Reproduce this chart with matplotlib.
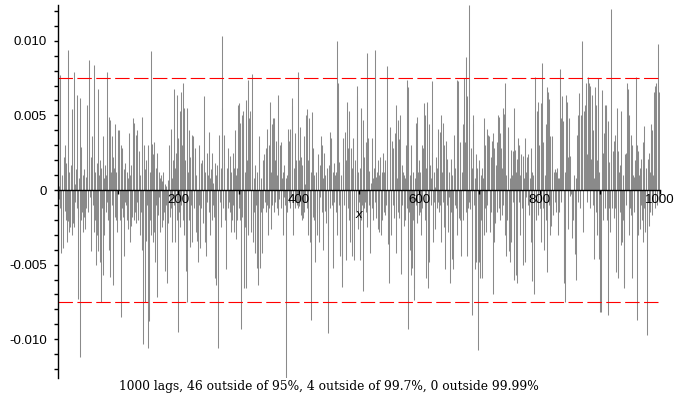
import numpy as np
import matplotlib
matplotlib.use('Agg')
import matplotlib.pyplot as plt
from matplotlib.ticker import FixedLocator, MultipleLocator, FuncFormatter

# autocorrelation values, units of 1e-4, lags 1..1000 in blocks of 100
acf1 = [-6, 3, 77, -12, -42, 9, 10, -18, -39, 22,
        -14, 30, -20, 18, -35, 94, -21, -28, 12, -25,
        6, 17, -30, 54, -22, 79, -25, 4, -8, 14,
        -12, 64, -18, -73, 8, 62, -112, -20, 29, -15,
        10, -28, 14, -18, -26, 9, -12, 20, 57, -15,
        12, 87, -5, 22, -41, 14, 36, -10, -28, 84,
        -20, 12, -50, 18, -30, 68, -41, 10, -48, 20,
        -75, 15, -12, 36, -57, -30, 8, 17, -15, 10,
        79, -8, -20, 49, -40, 47, -58, 12, 36, -10,
        22, -64, 15, -18, 44, 12, -20, -28, 25, 40]
acf2 = [15, 40, -20, -85, 30, -12, 28, -18, -44, 14,
        -8, 18, -10, 12, -20, 8, -26, 38, -35, 10,
        -24, 17, -18, 10, 48, -20, 45, -15, 37, -22,
        40, -8, -20, 12, 26, -30, 10, -15, 49, -40,
        -20, -103, 30, -75, 14, -34, 20, -10, -106, 30,
        -88, 12, -20, 93, -30, 31, -35, 24, -28, 32,
        -48, 15, -10, -72, 25, -17, 12, -5, 8, -28,
        10, -25, 6, -20, 12, -15, -54, 4, 3, -10,
        -62, 7, -22, 5, 30, -18, 41, -12, 8, -35,
        20, 68, -10, -35, 15, 25, 64, -20, -95, 35]
acf3 = [-15, 53, -25, 66, -10, 30, 72, -20, 55, -30,
        20, -35, -54, 55, -75, 12, 40, -20, -38, 22,
        -10, 37, -35, 15, 36, -12, 28, 22, -28, 10,
        -34, -15, -48, 30, -10, -39, 18, -12, 17, 20,
        -22, 8, 63, -35, 12, -44, -8, 25, 10, 39,
        -15, 8, -30, 14, -20, 25, -10, 5, -18, -59,
        18, -64, 10, 17, -106, -20, 12, 37, -8, 15,
        -25, 103, 55, -12, 18, 37, -20, -10, -53, 8,
        15, -12, 28, -8, 23, -15, -28, 12, -20, 25,
        -10, -28, 15, 40, -33, 10, -20, 15, 57, -12]
acf4 = [58, -20, 45, -93, 50, -18, 45, 53, -66, 12,
        -25, 60, -66, 20, 74, -30, 48, 10, 53, -20,
        -28, 15, 78, -35, 8, -15, -42, 17, -10, -52,
        12, -20, -64, 36, -10, -52, 8, -15, -42, 20,
        -12, 5, 24, -8, 28, -15, 41, -10, -30, 30,
        -12, 59, -26, 12, 44, -10, 48, -15, 48, 20,
        -8, 33, -12, 10, 64, -17, -6, 15, 30, -12,
        32, 8, -30, 12, -5, 17, -10, 8, -126, -15,
        10, 41, -8, 33, -12, 41, -5, 56, 62, -10,
        -30, 15, 38, -12, 20, -8, -10, 79, -12, -11]
acf5 = [20, 42, -17, 22, -20, 17, -19, -15, 36, -8,
        4, 50, -12, 54, 20, -30, 48, -15, -35, 12,
        -87, 52, -18, 28, 10, -20, -48, 12, 8, -15,
        -30, 24, -12, -35, 17, -5, 36, -15, 30, -40,
        8, 25, -14, 10, -22, -10, 15, -30, -96, 17,
        39, -12, 35, 8, -10, -52, 12, 18, -8, 10,
        12, -15, 100, -30, 72, -10, 19, -40, -44, 10,
        -50, -65, 35, 13, -10, 17, 39, -47, 20, 59,
        -12, 28, -20, 53, -35, 10, 28, -44, 15, 35,
        -10, -47, 20, 10, -15, 70, 63, -26, 12, -8]
acf6 = [-47, 15, -20, 55, -10, 47, -68, -12, 22, -8,
        32, -15, 92, -25, 35, -10, 13, -20, -42, 5,
        -12, 35, -20, 8, 15, 94, -8, 9, -19, 12,
        -26, 20, -28, 10, 22, -30, -10, 12, -20, 25,
        12, -15, -17, 20, -10, 12, 83, -36, -10, -62,
        25, 42, -30, 8, 33, -10, 28, -19, 38, 12,
        57, -42, 8, 47, -15, 34, -19, 50, -40, -56,
        17, -10, 12, -24, 10, -20, 8, 30, -12, 74,
        -93, 69, -15, -40, 10, -57, 30, -52, 12, -20,
        -66, -74, 8, 45, -10, 49, -22, 12, -17, 20]
acf7 = [-15, 12, -30, 30, -12, 28, 22, 58, -20, 50,
        -59, 15, 59, -10, -66, 44, -48, 17, -10, 8,
        25, 73, -35, 12, -8, 2, -26, 22, -12, 15,
        -8, 41, -15, 39, -10, 50, -35, 12, 45, -8,
        -25, 30, -53, 15, 33, -10, 21, -28, -5, 12,
        -62, 21, -15, 10, -46, -53, 20, 37, -10, 15,
        -12, 74, -30, 8, 73, -19, -20, 32, -15, -44,
        12, 44, -20, 75, 10, 32, -15, 89, 63, -44,
        -12, -8, 124, -8, -13, 28, 15, -84, 44, 50,
        -10, -53, 8, 24, -48, 15, -10, -107, -48, 20]
acf8 = [-59, 10, -20, 15, -59, 8, -30, 48, -12, 30,
        -28, 41, -10, 37, 12, 36, -12, -28, 22, -15,
        33, 38, -70, 28, -35, -22, 10, 17, 32, -15,
        50, -12, 49, 38, -20, 28, -17, 15, 55, -10,
        51, 72, -30, -44, 10, -20, 41, 42, -41, 8,
        -48, 27, -35, 10, 26, -8, 55, -60, 27, -57,
        12, -62, 21, 35, -8, 30, -30, 10, 24, -12,
        -10, 23, -50, 8, -48, 35, 12, -5, 22, -10,
        24, -10, -17, 8, 28, -35, 12, -61, 10, -15,
        -70, 14, 76, -20, 53, 10, 59, -17, 30, -12]
acf9 = [-12, 58, -35, 85, -12, 32, -15, -40, 10, 44,
        -20, 69, -55, 66, -10, 61, -30, 36, -24, 14,
        36, -6, -17, 12, -8, 14, -15, 12, 15, -30,
        8, -15, 8, 81, 48, -8, 63, 12, 46, -57,
        -62, 12, -75, 64, 10, 59, -26, 22, 48, -4,
        23, -3, -12, -32, -8, -20, 10, -43, -30, 8,
        -60, 37, -8, 50, 10, 65, -12, 50, 28, 100,
        35, -28, 15, 53, 10, 57, 72, -8, 24, 20,
        76, 72, 70, -12, 21, 15, 64, -10, 40, -46,
        8, 69, 57, -15, -30, 20, 75, -46, 12, -10]
acf10 = [-82, -82, 12, 67, -20, 25, 38, -12, 57, 57,
         52, -20, -84, 46, -12, 19, -28, 121, 24, -5,
         -12, 26, 33, -19, 37, -12, -55, 20, 55, -59,
         26, 12, -15, 17, -37, 53, -35, 10, -20, -62,
         -66, 24, 25, -10, 20, 72, 68, -30, 50, -12,
         37, -17, 30, -59, 10, 9, -15, 20, 12, 76,
         -87, 30, -30, 26, 10, -26, 15, -10, 21, -20,
         -35, 32, 43, -12, -28, 15, 8, -20, -97, 21,
         25, -24, 12, -15, 44, 40, -17, 10, -8, 66,
         -12, 70, 72, 15, -10, 98, 70, 66, -8, 30]

bound95 = 0.0075
x_ticks = [200, 400, 600, 800, 1000]
y_ticks = [-0.010, -0.005, 0, 0.005, 0.010]
caption = "1000 lags, 46 outside of 95%, 4 outside of 99.7%, 0 outside 99.99%"

acf = np.array(acf1 + acf2 + acf3 + acf4 + acf5 + acf6 + acf7 + acf8 + acf9 + acf10) * 1e-4
lags = np.arange(1, len(acf) + 1)

plt.rcParams['axes.unicode_minus'] = False
plt.rcParams['font.family'] = ['Liberation Sans', 'DejaVu Sans']

fig = plt.figure(figsize=(6.78, 3.99), dpi=100)
ax = fig.add_axes([58 / 678, 21 / 399, 602 / 678, 373 / 399])
ax.set_axisbelow(False)

ax.vlines(lags, 0, acf, color='#8a8a8a', linewidth=0.75, zorder=1)
ax.axhline(bound95, color='red', linewidth=0.8, linestyle=(0, (13, 4)), zorder=2)
ax.axhline(-bound95, color='red', linewidth=0.8, linestyle=(0, (13, 4)), zorder=2)

ax.set_xlim(0, 1000)
ax.set_ylim(acf.min(), acf.max())

for s in ['top', 'right']:
    ax.spines[s].set_visible(False)
ax.spines['bottom'].set_position(('data', 0))
ax.spines['bottom'].set_linewidth(1)
ax.spines['left'].set_linewidth(1)

ax.xaxis.set_major_locator(FixedLocator(x_ticks))
ax.xaxis.set_minor_locator(FixedLocator([100, 300, 500, 700, 900]))
ax.yaxis.set_major_locator(FixedLocator(y_ticks))
ax.yaxis.set_minor_locator(MultipleLocator(0.001))

def yfmt(v, pos):
    if abs(v) < 1e-12:
        return '0'
    return '%.3f' % v

ax.yaxis.set_major_formatter(FuncFormatter(yfmt))
ax.tick_params(axis='x', which='both', direction='out', length=3, width=1, pad=0, labelsize=9.5)
ax.tick_params(axis='y', which='both', direction='out', length=3, width=1, pad=5, labelsize=9.5)

ax.text(500, -0.00166, 'x', style='italic', ha='center', va='center', fontsize=9.5, zorder=5)
fig.text(329 / 678, 1 - 386.7 / 399, caption, ha='center', va='center',
         family='DejaVu Serif', fontsize=8.8)

fig.savefig('out.png', dpi=100)
